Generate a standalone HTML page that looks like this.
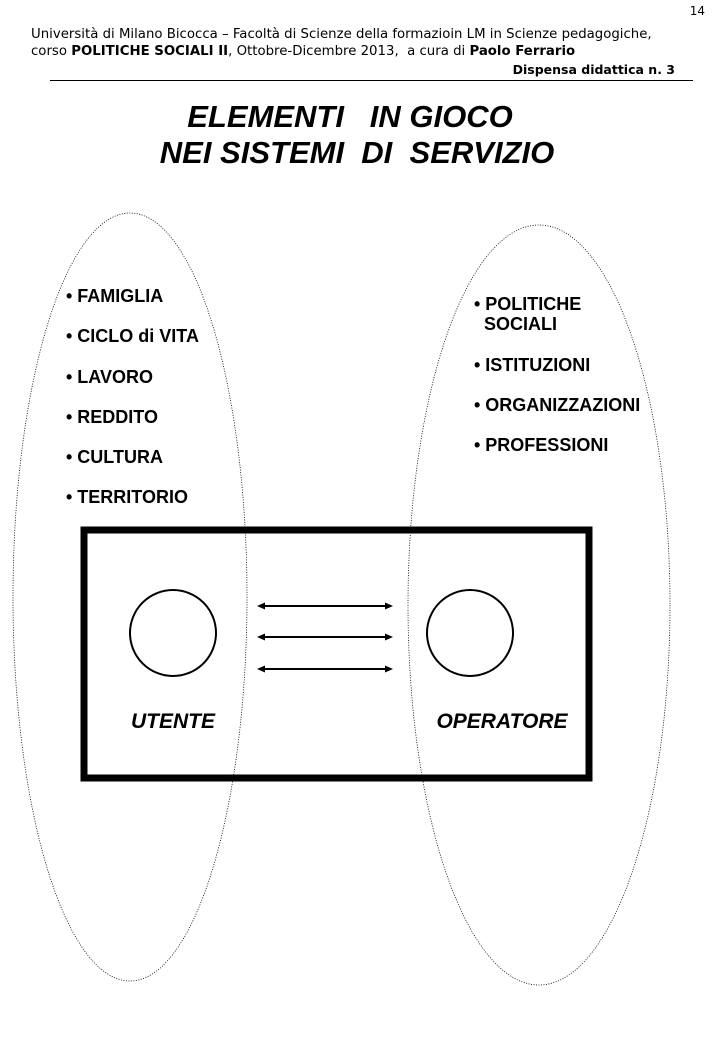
<!DOCTYPE html>
<html><head><meta charset="utf-8"><style>
html,body{margin:0;padding:0;background:#fff;}
svg{display:block;}
text{white-space:pre;}
.h{font-family:"DejaVu Sans","Liberation Sans",sans-serif;font-size:13.3px;fill:#000;}
.b{font-family:"Liberation Sans",sans-serif;font-weight:bold;font-size:18px;fill:#000;}
.t{font-family:"Liberation Sans",sans-serif;font-weight:bold;font-style:italic;font-size:31px;fill:#000;}
</style></head><body>
<svg width="720" height="1040" viewBox="0 0 720 1040" xml:space="preserve">
<text class="h" x="705" y="15" text-anchor="end" style="font-size:12px">14</text>
<text class="h" x="31" y="38">Università di Milano Bicocca – Facoltà di Scienze della formazioin LM in Scienze pedagogiche,</text>
<text class="h" x="31" y="55">corso <tspan font-weight="bold">POLITICHE SOCIALI II</tspan>, Ottobre-Dicembre 2013,  a cura di <tspan font-weight="bold">Paolo Ferrario</tspan></text>
<text class="h" x="675" y="74" text-anchor="end" style="font-weight:bold;font-size:12.5px">Dispensa didattica n. 3</text>
<line x1="50" y1="80.5" x2="693" y2="80.5" stroke="#000" stroke-width="1"/>
<text class="t" x="350" y="127" text-anchor="middle">ELEMENTI   IN GIOCO</text>
<text class="t" x="357" y="163" text-anchor="middle">NEI SISTEMI  DI  SERVIZIO</text>
<ellipse cx="130" cy="597" rx="117" ry="384" fill="none" stroke="#000" stroke-width="0.8" stroke-dasharray="1,1.5"/>
<ellipse cx="539" cy="605" rx="131" ry="380" fill="none" stroke="#000" stroke-width="0.8" stroke-dasharray="1,1.5"/>
<g class="b">
<text x="66" y="302">• FAMIGLIA</text>
<text x="66" y="342">• CICLO di VITA</text>
<text x="66" y="383">• LAVORO</text>
<text x="66" y="423">• REDDITO</text>
<text x="66" y="463">• CULTURA</text>
<text x="66" y="503">• TERRITORIO</text>
<text x="474" y="310">• POLITICHE</text>
<text x="484" y="330">SOCIALI</text>
<text x="474" y="371">• ISTITUZIONI</text>
<text x="474" y="411">• ORGANIZZAZIONI</text>
<text x="474" y="451">• PROFESSIONI</text>
</g>
<rect x="84" y="530" width="505" height="248" fill="none" stroke="#000" stroke-width="7"/>
<circle cx="173" cy="633" r="43" fill="none" stroke="#000" stroke-width="2"/>
<circle cx="470" cy="633" r="43" fill="none" stroke="#000" stroke-width="2"/>
<g stroke="#000" stroke-width="2" fill="#000">
<line x1="260" y1="606" x2="390" y2="606"/><line x1="260" y1="637" x2="390" y2="637"/><line x1="260" y1="669" x2="390" y2="669"/>
</g>
<g fill="#000">
<path d="M257 606 l8 -3.5 v7z"/><path d="M393 606 l-8 -3.5 v7z"/>
<path d="M257 637 l8 -3.5 v7z"/><path d="M393 637 l-8 -3.5 v7z"/>
<path d="M257 669 l8 -3.5 v7z"/><path d="M393 669 l-8 -3.5 v7z"/>
</g>
<text class="b" x="173" y="728" text-anchor="middle" style="font-style:italic;font-size:21px">UTENTE</text>
<text class="b" x="502" y="728" text-anchor="middle" style="font-style:italic;font-size:21px">OPERATORE</text>
</svg>
</body></html>
